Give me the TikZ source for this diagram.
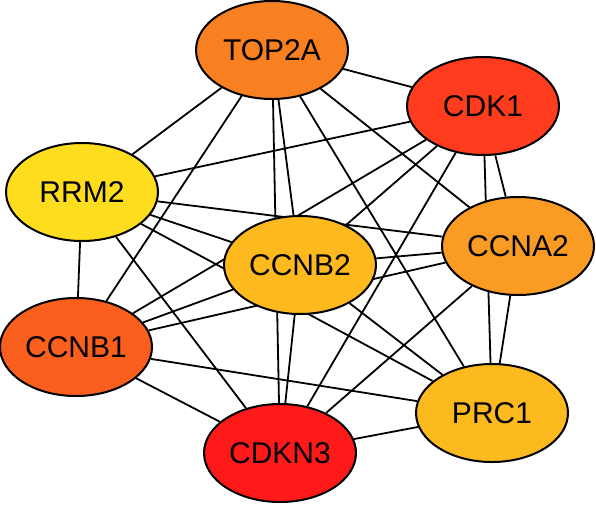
\documentclass[tikz,border=0pt]{standalone}
\usepackage{fontspec}
\setmainfont{Liberation Sans}
\usetikzlibrary{shapes.geometric,backgrounds}

\definecolor{top2a}{HTML}{F98020}
\definecolor{cdk1}{HTML}{FF3C1E}
\definecolor{rrm2}{HTML}{FDDD1E}
\definecolor{ccnb2}{HTML}{FDB91E}
\definecolor{ccna2}{HTML}{FA9B23}
\definecolor{ccnb1}{HTML}{FA5F1E}
\definecolor{prc1}{HTML}{FDBA1E}
\definecolor{cdkn3}{HTML}{FF1A1A}

\begin{document}
\begin{tikzpicture}[x=1pt, y=-1pt, every node/.style={ellipse,draw,line width=2pt,minimum width=152pt,minimum height=98pt,inner sep=0pt,font=\fontsize{30}{36}\selectfont}]
			\useasboundingbox (0,0) rectangle (596,506);
			\node[fill=top2a] (top2a) at (272,50) {TOP2A};
			\node[fill=cdk1] (cdk1) at (483,106) {CDK1};
			\node[fill=rrm2] (rrm2) at (82,192) {RRM2};
			\node[fill=ccnb2] (ccnb2) at (300,265) {CCNB2};
			\node[fill=ccna2] (ccna2) at (518,246) {CCNA2};
			\node[fill=ccnb1] (ccnb1) at (76,347) {CCNB1};
			\node[fill=prc1] (prc1) at (492,413) {PRC1};
			\node[fill=cdkn3] (cdkn3) at (280,453) {CDKN3};
			
			\begin{scope}[on background layer, every edge/.style={draw,line width=1.8pt}]
			\path (top2a) edge (cdk1);
			\path (top2a) edge (rrm2);
			\path (top2a) edge (ccnb2);
			\path (top2a) edge (ccna2);
			\path (top2a) edge (ccnb1);
			\path (top2a) edge (prc1);
			\path (top2a) edge (cdkn3);
			\path (cdk1) edge (rrm2);
			\path (cdk1) edge (ccnb2);
			\path (cdk1) edge (ccna2);
			\path (cdk1) edge (ccnb1);
			\path (cdk1) edge (prc1);
			\path (cdk1) edge (cdkn3);
			\path (rrm2) edge (ccnb2);
			\path (rrm2) edge (ccna2);
			\path (rrm2) edge (ccnb1);
			\path (rrm2) edge (prc1);
			\path (rrm2) edge (cdkn3);
			\path (ccnb2) edge (ccna2);
			\path (ccnb2) edge (ccnb1);
			\path (ccnb2) edge (prc1);
			\path (ccnb2) edge (cdkn3);
			\path (ccna2) edge (ccnb1);
			\path (ccna2) edge (prc1);
			\path (ccna2) edge (cdkn3);
			\path (ccnb1) edge (prc1);
			\path (ccnb1) edge (cdkn3);
			\path (prc1) edge (cdkn3);
			\end{scope}
		\end{tikzpicture}
\end{document}
